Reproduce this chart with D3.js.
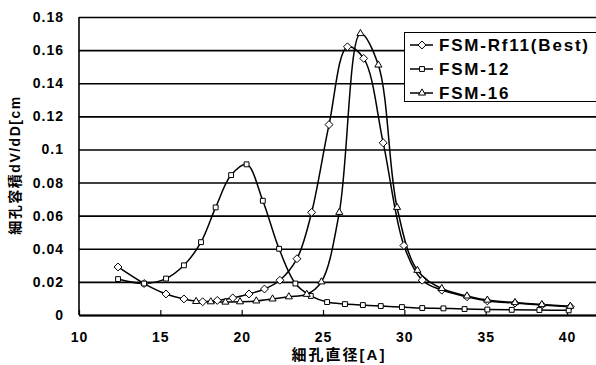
<!DOCTYPE html>
<html>
<head>
<meta charset="utf-8">
<script src="https://cdn.jsdelivr.net/npm/d3@7"></script>
<style>
  html, body { margin: 0; padding: 0; background: #fff; }
  svg { display: block; }
  text { font-family: "Liberation Sans", Arial, "Noto Sans CJK JP", sans-serif; font-weight: bold; fill: #000; }
</style>
</head>
<body>
<svg id="chart" width="596" height="365"></svg>
<script>
const W = 596, H = 365

// series names, in legend order
const seriesNames = ['FSM-Rf11(Best)', 'FSM-12', 'FSM-16']
const markerTypes = ['diamond', 'square', 'triangle']

// FSM-Rf11(Best)
const rf11X = [12.4, 14.0, 15.35, 16.45, 17.6, 18.5, 19.45, 20.45, 21.4, 22.35, 23.4, 24.3, 25.37, 26.5, 27.5, 28.7, 29.97, 31.1, 32.3, 33.85, 35.1, 36.8, 38.45, 40.2]
const rf11Y = [0.029, 0.019, 0.0127, 0.0097, 0.008, 0.0088, 0.0103, 0.0127, 0.0157, 0.021, 0.034, 0.062, 0.115, 0.162, 0.155, 0.104, 0.042, 0.021, 0.015, 0.011, 0.0085, 0.0072, 0.006, 0.005]

// FSM-12
const f12X = [12.4, 14.0, 15.35, 16.45, 17.5, 18.4, 19.35, 20.3, 21.3, 22.3, 23.3, 24.25, 25.25, 26.35, 27.45, 28.55, 29.85, 31.1, 32.4, 33.7, 35.1, 36.6, 38.3, 40.1]
const f12Y = [0.0217, 0.019, 0.022, 0.030, 0.044, 0.065, 0.0845, 0.091, 0.069, 0.040, 0.019, 0.0115, 0.0078, 0.0066, 0.006, 0.0054, 0.0048, 0.0042, 0.004, 0.0036, 0.0033, 0.0031, 0.003, 0.0028]

// FSM-16
const f16X = [17.2, 18.1, 19.0, 19.9, 20.9, 21.9, 22.9, 24.0, 24.9, 26.0, 27.3, 28.4, 29.55, 30.8, 32.3, 33.85, 35.1, 36.8, 38.45, 40.2]
const f16Y = [0.0082, 0.0080, 0.0078, 0.0080, 0.0085, 0.0097, 0.011, 0.0125, 0.020, 0.062, 0.170, 0.151, 0.065, 0.027, 0.016, 0.0115, 0.009, 0.0075, 0.0063, 0.0053]

const xTicks = [10, 15, 20, 25, 30, 35, 40]
const yTicks = [0, 0.02, 0.04, 0.06, 0.08, 0.1, 0.12, 0.14, 0.16, 0.18]

const xTitle = '細孔直径[A]'
const yTitle = '細孔容積dV/dD[cm'

const series = [
    { name: seriesNames[0], marker: markerTypes[0], pts: rf11X.map((x, i) => [x, rf11Y[i]]) },
    { name: seriesNames[1], marker: markerTypes[1], pts: f12X.map((x, i) => [x, f12Y[i]]) },
    { name: seriesNames[2], marker: markerTypes[2], pts: f16X.map((x, i) => [x, f16Y[i]]) }
]

const pLeft = 79, pRight = 596, pTop = 17, pBottom = 315

const x = d3.scaleLinear().domain([10, 41.78]).range([pLeft, pRight])
const y = d3.scaleLinear().domain([0, 0.18]).range([pBottom, pTop])

const svg = d3.select('#chart')

// gridlines + y labels
const yAxis = svg.append('g')
    .attr('transform', `translate(${pLeft},0)`)
    .call(d3.axisLeft(y).tickValues(yTicks)
        .tickSize(-(pRight - pLeft)).tickPadding(15)
        .tickFormat(d => d === 0 ? '0' : String(+d.toFixed(2))))
yAxis.select('.domain').remove()
yAxis.selectAll('line').attr('stroke', '#000').attr('stroke-width', 1.6)
yAxis.selectAll('text').style('font-size', '14px').style('letter-spacing', '1px')

// left axis line
svg.append('line')
    .attr('x1', pLeft).attr('x2', pLeft).attr('y1', pTop).attr('y2', pBottom)
    .attr('stroke', '#000').attr('stroke-width', 1.6)

// x axis
const xAxis = svg.append('g')
    .attr('transform', `translate(0,${pBottom})`)
    .call(d3.axisBottom(x).tickValues(xTicks).tickSizeInner(-5).tickSizeOuter(0).tickPadding(17))
xAxis.select('.domain').attr('stroke', '#000').attr('stroke-width', 1.8)
xAxis.selectAll('line').attr('stroke', '#000').attr('stroke-width', 1.2)
xAxis.selectAll('text').style('font-size', '14px').style('letter-spacing', '1px')

// axis titles
svg.append('text')
    .attr('x', 339).attr('y', 360)
    .attr('text-anchor', 'middle')
    .style('font-size', '15px').style('letter-spacing', '2px')
    .text(xTitle)

svg.append('text')
    .attr('transform', 'translate(20,165) rotate(-90)')
    .attr('text-anchor', 'middle')
    .style('font-size', '14px').style('letter-spacing', '1.5px')
    .text(yTitle)

const lineGen = d3.line()
    .x(d => x(d[0]))
    .y(d => y(d[1]))
    .curve(d3.curveCatmullRom.alpha(0.5))

const symbolOf = {
    diamond: d3.symbol().type(d3.symbolDiamond2).size(40),
    square: d3.symbol().type(d3.symbolSquare2).size(30),
    triangle: d3.symbol().type(d3.symbolTriangle2).size(36)
}

series.forEach(s => {
    svg.append('path')
        .datum(s.pts)
        .attr('d', lineGen)
        .attr('fill', 'none')
        .attr('stroke', '#000')
        .attr('stroke-width', 1.5)
})

series.forEach(s => {
    svg.selectAll(null)
        .data(s.pts)
        .enter()
        .append('path')
        .attr('d', symbolOf[s.marker])
        .attr('transform', d => `translate(${x(d[0])},${y(d[1])})`)
        .attr('fill', '#fff')
        .attr('stroke', '#000')
        .attr('stroke-width', 1)
})

// legend
const lg = svg.append('g')
lg.append('rect')
    .attr('x', 404.5).attr('y', 32.5).attr('width', 200).attr('height', 69)
    .attr('fill', '#fff').attr('stroke', '#000').attr('stroke-width', 1)

series.forEach((s, i) => {
    const ly = 45 + i * 24
    lg.append('line')
        .attr('x1', 410).attr('x2', 433).attr('y1', ly).attr('y2', ly)
        .attr('stroke', '#000').attr('stroke-width', 1.5)
    lg.append('path')
        .attr('d', symbolOf[s.marker])
        .attr('transform', `translate(422,${ly})`)
        .attr('fill', '#fff').attr('stroke', '#000').attr('stroke-width', 1)
    lg.append('text')
        .attr('x', 439).attr('y', ly)
        .attr('dy', '0.36em')
        .style('font-size', '17px').style('letter-spacing', '1.8px')
        .text(s.name)
})
</script>
</body>
</html>
